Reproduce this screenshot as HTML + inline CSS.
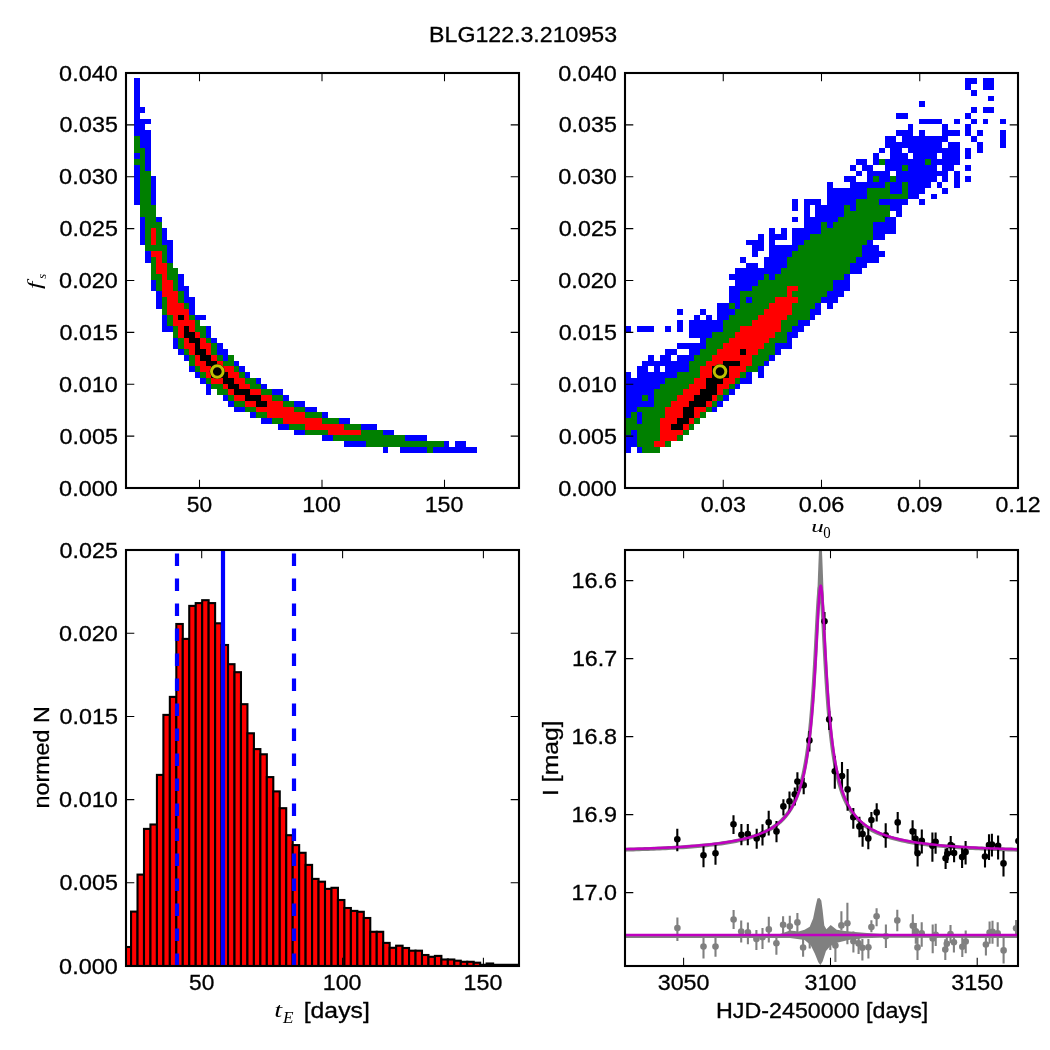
<!DOCTYPE html><html><head><meta charset="utf-8"><title>BLG122.3.210953</title><style>html,body{margin:0;padding:0;background:#fff;}svg{display:block;will-change:transform;}text{font-family:"Liberation Sans",sans-serif;fill:#000;stroke:#000;stroke-width:0.3px;}.m{font-family:"Liberation Serif",serif;font-style:italic;stroke-width:0;}.mr{font-family:"Liberation Serif",serif;stroke-width:0;}</style></head><body>
<svg width="1050" height="1050" viewBox="0 0 1050 1050">
<rect width="1050" height="1050" fill="#fff"/>
<defs><clipPath id="cbl"><rect x="126" y="550" width="393" height="416"/></clipPath><clipPath id="cbr"><rect x="625" y="550" width="393" height="416"/></clipPath><clipPath id="ctl"><rect x="126" y="73" width="393" height="415"/></clipPath><clipPath id="ctr"><rect x="625" y="73" width="393" height="415"/></clipPath></defs>
<g clip-path="url(#ctl)" shape-rendering="crispEdges">
<path fill="#0000ff" d="M134.00,78.43h5.53v5.758h-5.53zM134.00,84.19h5.53v5.758h-5.53zM134.00,89.95h5.53v5.758h-5.53zM134.00,95.70h5.53v5.758h-5.53zM134.00,101.46h5.53v5.758h-5.53zM134.00,107.22h11.06v5.758h-11.06zM134.00,112.98h5.53v5.758h-5.53zM134.00,118.74h16.60v5.758h-16.60zM134.00,124.49h11.06v5.758h-11.06zM134.00,130.25h16.60v5.758h-16.60zM139.53,136.01h11.06v5.758h-11.06zM139.53,141.77h11.06v5.758h-11.06zM145.06,147.53h5.53v5.758h-5.53zM134.00,153.28h5.53v5.758h-5.53zM145.06,153.28h5.53v5.758h-5.53zM145.06,159.04h5.53v5.758h-5.53zM134.00,164.80h5.53v5.758h-5.53zM145.06,164.80h5.53v5.758h-5.53zM134.00,170.56h5.53v5.758h-5.53zM134.00,176.32h5.53v5.758h-5.53zM150.60,176.32h5.53v5.758h-5.53zM134.00,182.07h5.53v5.758h-5.53zM150.60,182.07h5.53v5.758h-5.53zM134.00,187.83h5.53v5.758h-5.53zM150.60,187.83h5.53v5.758h-5.53zM134.00,193.59h5.53v5.758h-5.53zM150.60,193.59h5.53v5.758h-5.53zM134.00,199.35h5.53v5.758h-5.53zM150.60,199.35h5.53v5.758h-5.53zM139.53,216.62h5.53v5.758h-5.53zM156.13,216.62h5.53v5.758h-5.53zM139.53,222.38h5.53v5.758h-5.53zM139.53,228.14h5.53v5.758h-5.53zM161.66,228.14h5.53v5.758h-5.53zM139.53,233.90h5.53v5.758h-5.53zM161.66,233.90h5.53v5.758h-5.53zM139.53,239.65h5.53v5.758h-5.53zM161.66,239.65h11.06v5.758h-11.06zM167.19,245.41h5.53v5.758h-5.53zM145.06,251.17h5.53v5.758h-5.53zM167.19,251.17h5.53v5.758h-5.53zM145.06,256.93h5.53v5.758h-5.53zM167.19,256.93h5.53v5.758h-5.53zM178.26,274.20h5.53v5.758h-5.53zM150.60,279.96h5.53v5.758h-5.53zM178.26,279.96h5.53v5.758h-5.53zM150.60,285.72h5.53v5.758h-5.53zM178.26,285.72h11.06v5.758h-11.06zM156.13,291.48h5.53v5.758h-5.53zM183.79,291.48h5.53v5.758h-5.53zM156.13,297.23h5.53v5.758h-5.53zM183.79,297.23h11.06v5.758h-11.06zM156.13,302.99h5.53v5.758h-5.53zM189.32,302.99h5.53v5.758h-5.53zM189.32,308.75h5.53v5.758h-5.53zM161.66,314.51h5.53v5.758h-5.53zM194.85,314.51h11.06v5.758h-11.06zM161.66,320.27h5.53v5.758h-5.53zM161.66,326.02h11.06v5.758h-11.06zM205.92,326.02h5.53v5.758h-5.53zM205.92,331.78h5.53v5.758h-5.53zM172.72,337.54h5.53v5.758h-5.53zM211.45,337.54h5.53v5.758h-5.53zM172.72,343.30h5.53v5.758h-5.53zM216.98,343.30h5.53v5.758h-5.53zM178.26,349.06h5.53v5.758h-5.53zM216.98,349.06h11.06v5.758h-11.06zM183.79,354.81h5.53v5.758h-5.53zM222.51,354.81h5.53v5.758h-5.53zM233.58,360.57h5.53v5.758h-5.53zM189.32,366.33h5.53v5.758h-5.53zM239.11,366.33h5.53v5.758h-5.53zM194.85,372.09h5.53v5.758h-5.53zM244.64,372.09h5.53v5.758h-5.53zM200.38,377.85h5.53v5.758h-5.53zM255.70,377.85h5.53v5.758h-5.53zM205.92,383.60h5.53v5.758h-5.53zM261.24,383.60h5.53v5.758h-5.53zM205.92,389.36h5.53v5.758h-5.53zM272.30,389.36h11.06v5.758h-11.06zM222.51,395.12h5.53v5.758h-5.53zM283.36,395.12h5.53v5.758h-5.53zM228.04,400.88h5.53v5.758h-5.53zM294.43,400.88h11.06v5.758h-11.06zM233.58,406.64h11.06v5.758h-11.06zM305.49,406.64h11.06v5.758h-11.06zM250.17,412.39h5.53v5.758h-5.53zM322.09,412.39h5.53v5.758h-5.53zM261.24,418.15h11.06v5.758h-11.06zM338.68,418.15h11.06v5.758h-11.06zM277.83,423.91h11.06v5.758h-11.06zM360.81,423.91h16.60v5.758h-16.60zM294.43,429.67h11.06v5.758h-11.06zM382.94,429.67h11.06v5.758h-11.06zM322.09,435.43h11.06v5.758h-11.06zM405.07,435.43h22.13v5.758h-22.13zM344.22,441.18h22.13v5.758h-22.13zM443.79,441.18h5.53v5.758h-5.53zM454.86,441.18h11.06v5.758h-11.06zM382.94,446.94h5.53v5.758h-5.53zM399.54,446.94h27.66v5.758h-27.66zM432.73,446.94h44.26v5.758h-44.26z"/>
<path fill="#008000" d="M134.00,136.01h5.53v5.758h-5.53zM134.00,141.77h5.53v5.758h-5.53zM134.00,147.53h11.06v5.758h-11.06zM139.53,153.28h5.53v5.758h-5.53zM134.00,159.04h11.06v5.758h-11.06zM139.53,164.80h5.53v5.758h-5.53zM139.53,170.56h11.06v5.758h-11.06zM139.53,176.32h11.06v5.758h-11.06zM139.53,182.07h11.06v5.758h-11.06zM139.53,187.83h11.06v5.758h-11.06zM139.53,193.59h11.06v5.758h-11.06zM139.53,199.35h11.06v5.758h-11.06zM139.53,205.11h16.60v5.758h-16.60zM139.53,210.86h16.60v5.758h-16.60zM145.06,216.62h11.06v5.758h-11.06zM145.06,222.38h16.60v5.758h-16.60zM145.06,228.14h5.53v5.758h-5.53zM156.13,228.14h5.53v5.758h-5.53zM145.06,233.90h5.53v5.758h-5.53zM156.13,233.90h5.53v5.758h-5.53zM145.06,239.65h5.53v5.758h-5.53zM156.13,239.65h5.53v5.758h-5.53zM145.06,245.41h22.13v5.758h-22.13zM161.66,251.17h5.53v5.758h-5.53zM150.60,256.93h5.53v5.758h-5.53zM161.66,256.93h5.53v5.758h-5.53zM150.60,262.69h5.53v5.758h-5.53zM167.19,262.69h5.53v5.758h-5.53zM150.60,268.44h5.53v5.758h-5.53zM167.19,268.44h11.06v5.758h-11.06zM150.60,274.20h11.06v5.758h-11.06zM167.19,274.20h11.06v5.758h-11.06zM156.13,279.96h5.53v5.758h-5.53zM172.72,279.96h5.53v5.758h-5.53zM156.13,285.72h5.53v5.758h-5.53zM172.72,285.72h5.53v5.758h-5.53zM178.26,291.48h5.53v5.758h-5.53zM161.66,297.23h5.53v5.758h-5.53zM178.26,297.23h5.53v5.758h-5.53zM161.66,302.99h5.53v5.758h-5.53zM183.79,302.99h5.53v5.758h-5.53zM161.66,308.75h5.53v5.758h-5.53zM167.19,314.51h5.53v5.758h-5.53zM189.32,314.51h5.53v5.758h-5.53zM167.19,320.27h5.53v5.758h-5.53zM194.85,320.27h5.53v5.758h-5.53zM172.72,326.02h5.53v5.758h-5.53zM194.85,326.02h11.06v5.758h-11.06zM172.72,331.78h5.53v5.758h-5.53zM200.38,331.78h5.53v5.758h-5.53zM178.26,337.54h5.53v5.758h-5.53zM205.92,337.54h5.53v5.758h-5.53zM178.26,343.30h5.53v5.758h-5.53zM211.45,343.30h5.53v5.758h-5.53zM183.79,349.06h5.53v5.758h-5.53zM211.45,349.06h5.53v5.758h-5.53zM189.32,354.81h5.53v5.758h-5.53zM216.98,354.81h5.53v5.758h-5.53zM228.04,354.81h5.53v5.758h-5.53zM189.32,360.57h5.53v5.758h-5.53zM222.51,360.57h11.06v5.758h-11.06zM194.85,366.33h5.53v5.758h-5.53zM233.58,366.33h5.53v5.758h-5.53zM200.38,372.09h5.53v5.758h-5.53zM239.11,372.09h5.53v5.758h-5.53zM205.92,377.85h5.53v5.758h-5.53zM244.64,377.85h11.06v5.758h-11.06zM211.45,383.60h11.06v5.758h-11.06zM250.17,383.60h11.06v5.758h-11.06zM216.98,389.36h11.06v5.758h-11.06zM261.24,389.36h11.06v5.758h-11.06zM228.04,395.12h5.53v5.758h-5.53zM272.30,395.12h11.06v5.758h-11.06zM233.58,400.88h11.06v5.758h-11.06zM283.36,400.88h11.06v5.758h-11.06zM244.64,406.64h11.06v5.758h-11.06zM294.43,406.64h11.06v5.758h-11.06zM255.70,412.39h11.06v5.758h-11.06zM305.49,412.39h16.60v5.758h-16.60zM272.30,418.15h11.06v5.758h-11.06zM322.09,418.15h16.60v5.758h-16.60zM288.90,423.91h16.60v5.758h-16.60zM344.22,423.91h16.60v5.758h-16.60zM305.49,429.67h22.13v5.758h-22.13zM360.81,429.67h22.13v5.758h-22.13zM333.15,435.43h71.92v5.758h-71.92zM366.34,441.18h77.45v5.758h-77.45zM427.20,446.94h5.53v5.758h-5.53z"/>
<path fill="#ff0000" d="M150.60,228.14h5.53v5.758h-5.53zM150.60,233.90h5.53v5.758h-5.53zM150.60,239.65h5.53v5.758h-5.53zM150.60,251.17h11.06v5.758h-11.06zM156.13,256.93h5.53v5.758h-5.53zM156.13,262.69h11.06v5.758h-11.06zM156.13,268.44h11.06v5.758h-11.06zM161.66,274.20h5.53v5.758h-5.53zM161.66,279.96h11.06v5.758h-11.06zM161.66,285.72h11.06v5.758h-11.06zM161.66,291.48h16.60v5.758h-16.60zM167.19,297.23h11.06v5.758h-11.06zM167.19,302.99h16.60v5.758h-16.60zM167.19,308.75h22.13v5.758h-22.13zM172.72,314.51h5.53v5.758h-5.53zM183.79,314.51h5.53v5.758h-5.53zM172.72,320.27h22.13v5.758h-22.13zM178.26,326.02h5.53v5.758h-5.53zM189.32,326.02h5.53v5.758h-5.53zM178.26,331.78h5.53v5.758h-5.53zM194.85,331.78h5.53v5.758h-5.53zM183.79,337.54h5.53v5.758h-5.53zM200.38,337.54h5.53v5.758h-5.53zM183.79,343.30h11.06v5.758h-11.06zM200.38,343.30h11.06v5.758h-11.06zM189.32,349.06h5.53v5.758h-5.53zM205.92,349.06h5.53v5.758h-5.53zM194.85,354.81h5.53v5.758h-5.53zM211.45,354.81h5.53v5.758h-5.53zM194.85,360.57h11.06v5.758h-11.06zM216.98,360.57h5.53v5.758h-5.53zM200.38,366.33h11.06v5.758h-11.06zM222.51,366.33h11.06v5.758h-11.06zM205.92,372.09h5.53v5.758h-5.53zM228.04,372.09h11.06v5.758h-11.06zM211.45,377.85h11.06v5.758h-11.06zM233.58,377.85h11.06v5.758h-11.06zM222.51,383.60h5.53v5.758h-5.53zM239.11,383.60h11.06v5.758h-11.06zM228.04,389.36h5.53v5.758h-5.53zM250.17,389.36h11.06v5.758h-11.06zM233.58,395.12h11.06v5.758h-11.06zM261.24,395.12h11.06v5.758h-11.06zM244.64,400.88h11.06v5.758h-11.06zM266.77,400.88h16.60v5.758h-16.60zM255.70,406.64h38.72v5.758h-38.72zM266.77,412.39h38.72v5.758h-38.72zM283.36,418.15h38.72v5.758h-38.72zM305.49,423.91h38.72v5.758h-38.72zM327.62,429.67h33.19v5.758h-33.19z"/>
<path fill="#000000" d="M178.26,314.51h5.53v5.758h-5.53zM183.79,326.02h5.53v5.758h-5.53zM183.79,331.78h11.06v5.758h-11.06zM189.32,337.54h11.06v5.758h-11.06zM194.85,343.30h5.53v5.758h-5.53zM194.85,349.06h11.06v5.758h-11.06zM200.38,354.81h11.06v5.758h-11.06zM205.92,360.57h11.06v5.758h-11.06zM211.45,366.33h11.06v5.758h-11.06zM211.45,372.09h16.60v5.758h-16.60zM222.51,377.85h11.06v5.758h-11.06zM228.04,383.60h11.06v5.758h-11.06zM233.58,389.36h16.60v5.758h-16.60zM244.64,395.12h16.60v5.758h-16.60zM255.70,400.88h11.06v5.758h-11.06z"/>
</g>
<circle cx="217.3" cy="371.5" r="7.6" fill="#000"/><circle cx="217.3" cy="371.5" r="5.8" fill="#000" stroke="#bfbf00" stroke-width="2.9"/>
<g clip-path="url(#ctr)" shape-rendering="crispEdges">
<path fill="#0000ff" d="M965.35,78.43h11.53v5.758h-11.53zM982.65,78.43h11.53v5.758h-11.53zM965.35,84.19h5.77v5.758h-5.77zM982.65,84.19h11.53v5.758h-11.53zM971.12,89.95h5.77v5.758h-5.77zM988.42,95.70h5.77v5.758h-5.77zM919.22,101.46h5.77v5.758h-5.77zM971.12,107.22h5.77v5.758h-5.77zM982.65,107.22h11.53v5.758h-11.53zM896.15,112.98h11.53v5.758h-11.53zM965.35,112.98h5.77v5.758h-5.77zM919.22,118.74h23.07v5.758h-23.07zM953.82,118.74h5.77v5.758h-5.77zM971.12,118.74h5.77v5.758h-5.77zM982.65,118.74h5.77v5.758h-5.77zM999.96,118.74h5.77v5.758h-5.77zM907.68,124.49h5.77v5.758h-5.77zM942.29,124.49h5.77v5.758h-5.77zM965.35,124.49h5.77v5.758h-5.77zM896.15,130.25h17.30v5.758h-17.30zM919.22,130.25h5.77v5.758h-5.77zM942.29,130.25h17.30v5.758h-17.30zM965.35,130.25h5.77v5.758h-5.77zM976.89,130.25h5.77v5.758h-5.77zM999.96,130.25h5.77v5.758h-5.77zM884.62,136.01h11.53v5.758h-11.53zM901.92,136.01h46.14v5.758h-46.14zM971.12,136.01h5.77v5.758h-5.77zM999.96,136.01h5.77v5.758h-5.77zM884.62,141.77h57.67v5.758h-57.67zM948.05,141.77h11.53v5.758h-11.53zM976.89,141.77h5.77v5.758h-5.77zM999.96,141.77h5.77v5.758h-5.77zM878.85,147.53h5.77v5.758h-5.77zM890.38,147.53h11.53v5.758h-11.53zM907.68,147.53h51.90v5.758h-51.90zM965.35,147.53h5.77v5.758h-5.77zM976.89,147.53h5.77v5.758h-5.77zM873.08,153.28h5.77v5.758h-5.77zM890.38,153.28h17.30v5.758h-17.30zM913.45,153.28h23.07v5.758h-23.07zM942.29,153.28h17.30v5.758h-17.30zM965.35,153.28h5.77v5.758h-5.77zM855.78,159.04h11.53v5.758h-11.53zM873.08,159.04h5.77v5.758h-5.77zM884.62,159.04h40.37v5.758h-40.37zM930.75,159.04h28.84v5.758h-28.84zM850.01,164.80h5.77v5.758h-5.77zM861.55,164.80h11.53v5.758h-11.53zM884.62,164.80h17.30v5.758h-17.30zM907.68,164.80h28.84v5.758h-28.84zM942.29,164.80h11.53v5.758h-11.53zM965.35,164.80h5.77v5.758h-5.77zM855.78,170.56h5.77v5.758h-5.77zM867.31,170.56h23.07v5.758h-23.07zM896.15,170.56h51.90v5.758h-51.90zM953.82,170.56h5.77v5.758h-5.77zM844.25,176.32h11.53v5.758h-11.53zM867.31,176.32h5.77v5.758h-5.77zM878.85,176.32h11.53v5.758h-11.53zM896.15,176.32h40.37v5.758h-40.37zM942.29,176.32h5.77v5.758h-5.77zM953.82,176.32h5.77v5.758h-5.77zM965.35,176.32h5.77v5.758h-5.77zM826.95,182.07h5.77v5.758h-5.77zM850.01,182.07h34.60v5.758h-34.60zM890.38,182.07h11.53v5.758h-11.53zM907.68,182.07h23.07v5.758h-23.07zM936.52,182.07h5.77v5.758h-5.77zM953.82,182.07h5.77v5.758h-5.77zM826.95,187.83h40.37v5.758h-40.37zM890.38,187.83h11.53v5.758h-11.53zM907.68,187.83h17.30v5.758h-17.30zM942.29,187.83h5.77v5.758h-5.77zM826.95,193.59h40.37v5.758h-40.37zM907.68,193.59h11.53v5.758h-11.53zM930.75,193.59h5.77v5.758h-5.77zM792.34,199.35h5.77v5.758h-5.77zM803.88,199.35h17.30v5.758h-17.30zM826.95,199.35h28.84v5.758h-28.84zM878.85,199.35h28.84v5.758h-28.84zM919.22,199.35h5.77v5.758h-5.77zM792.34,205.11h5.77v5.758h-5.77zM803.88,205.11h5.77v5.758h-5.77zM815.41,205.11h28.84v5.758h-28.84zM850.01,205.11h5.77v5.758h-5.77zM890.38,205.11h11.53v5.758h-11.53zM803.88,210.86h5.77v5.758h-5.77zM815.41,210.86h28.84v5.758h-28.84zM896.15,210.86h5.77v5.758h-5.77zM792.34,216.62h5.77v5.758h-5.77zM803.88,216.62h34.60v5.758h-34.60zM884.62,216.62h11.53v5.758h-11.53zM803.88,222.38h17.30v5.758h-17.30zM826.95,222.38h5.77v5.758h-5.77zM873.08,222.38h23.07v5.758h-23.07zM769.28,228.14h5.77v5.758h-5.77zM780.81,228.14h5.77v5.758h-5.77zM792.34,228.14h28.84v5.758h-28.84zM873.08,228.14h23.07v5.758h-23.07zM757.74,233.90h5.77v5.758h-5.77zM769.28,233.90h17.30v5.758h-17.30zM792.34,233.90h17.30v5.758h-17.30zM873.08,233.90h11.53v5.758h-11.53zM746.21,239.65h17.30v5.758h-17.30zM769.28,239.65h5.77v5.758h-5.77zM792.34,239.65h11.53v5.758h-11.53zM867.31,239.65h5.77v5.758h-5.77zM751.97,245.41h11.53v5.758h-11.53zM769.28,245.41h28.84v5.758h-28.84zM861.55,245.41h17.30v5.758h-17.30zM751.97,251.17h5.77v5.758h-5.77zM769.28,251.17h23.07v5.758h-23.07zM861.55,251.17h23.07v5.758h-23.07zM740.44,256.93h5.77v5.758h-5.77zM763.51,256.93h23.07v5.758h-23.07zM855.78,256.93h23.07v5.758h-23.07zM746.21,262.69h11.53v5.758h-11.53zM763.51,262.69h23.07v5.758h-23.07zM850.01,262.69h17.30v5.758h-17.30zM734.67,268.44h46.14v5.758h-46.14zM850.01,268.44h11.53v5.758h-11.53zM728.91,274.20h34.60v5.758h-34.60zM769.28,274.20h5.77v5.758h-5.77zM844.25,274.20h5.77v5.758h-5.77zM734.67,279.96h23.07v5.758h-23.07zM832.71,279.96h17.30v5.758h-17.30zM728.91,285.72h23.07v5.758h-23.07zM832.71,285.72h17.30v5.758h-17.30zM728.91,291.48h11.53v5.758h-11.53zM826.95,291.48h17.30v5.758h-17.30zM728.91,297.23h11.53v5.758h-11.53zM746.21,297.23h5.77v5.758h-5.77zM821.18,297.23h17.30v5.758h-17.30zM717.37,302.99h11.53v5.758h-11.53zM734.67,302.99h5.77v5.758h-5.77zM815.41,302.99h5.77v5.758h-5.77zM826.95,302.99h5.77v5.758h-5.77zM677.00,308.75h5.77v5.758h-5.77zM700.07,308.75h5.77v5.758h-5.77zM717.37,308.75h17.30v5.758h-17.30zM809.64,308.75h11.53v5.758h-11.53zM694.30,314.51h5.77v5.758h-5.77zM705.84,314.51h5.77v5.758h-5.77zM717.37,314.51h11.53v5.758h-11.53zM809.64,314.51h5.77v5.758h-5.77zM677.00,320.27h5.77v5.758h-5.77zM688.54,320.27h34.60v5.758h-34.60zM798.11,320.27h11.53v5.758h-11.53zM625.10,326.02h5.77v5.758h-5.77zM636.63,326.02h17.30v5.758h-17.30zM665.47,326.02h5.77v5.758h-5.77zM677.00,326.02h5.77v5.758h-5.77zM688.54,326.02h34.60v5.758h-34.60zM792.34,326.02h11.53v5.758h-11.53zM688.54,331.78h23.07v5.758h-23.07zM786.58,331.78h11.53v5.758h-11.53zM700.07,337.54h5.77v5.758h-5.77zM786.58,337.54h5.77v5.758h-5.77zM677.00,343.30h28.84v5.758h-28.84zM775.04,343.30h17.30v5.758h-17.30zM665.47,349.06h11.53v5.758h-11.53zM688.54,349.06h11.53v5.758h-11.53zM775.04,349.06h5.77v5.758h-5.77zM648.17,354.81h5.77v5.758h-5.77zM659.70,354.81h11.53v5.758h-11.53zM677.00,354.81h17.30v5.758h-17.30zM769.28,354.81h5.77v5.758h-5.77zM642.40,360.57h46.14v5.758h-46.14zM763.51,360.57h5.77v5.758h-5.77zM636.63,366.33h11.53v5.758h-11.53zM653.94,366.33h5.77v5.758h-5.77zM665.47,366.33h23.07v5.758h-23.07zM757.74,366.33h5.77v5.758h-5.77zM625.10,372.09h5.77v5.758h-5.77zM636.63,372.09h40.37v5.758h-40.37zM746.21,372.09h5.77v5.758h-5.77zM757.74,372.09h5.77v5.758h-5.77zM625.10,377.85h40.37v5.758h-40.37zM740.44,377.85h11.53v5.758h-11.53zM625.10,383.60h34.60v5.758h-34.60zM734.67,383.60h5.77v5.758h-5.77zM625.10,389.36h28.84v5.758h-28.84zM728.91,389.36h5.77v5.758h-5.77zM625.10,395.12h17.30v5.758h-17.30zM648.17,395.12h5.77v5.758h-5.77zM723.14,395.12h5.77v5.758h-5.77zM625.10,400.88h28.84v5.758h-28.84zM717.37,400.88h5.77v5.758h-5.77zM625.10,406.64h11.53v5.758h-11.53zM711.61,406.64h5.77v5.758h-5.77zM625.10,412.39h5.77v5.758h-5.77zM636.63,412.39h5.77v5.758h-5.77zM636.63,418.15h5.77v5.758h-5.77zM630.87,429.67h5.77v5.758h-5.77zM625.10,435.43h11.53v5.758h-11.53zM625.10,441.18h11.53v5.758h-11.53zM625.10,446.94h5.77v5.758h-5.77zM636.63,446.94h5.77v5.758h-5.77z"/>
<path fill="#008000" d="M878.85,159.04h5.77v5.758h-5.77zM924.98,159.04h5.77v5.758h-5.77zM901.92,164.80h5.77v5.758h-5.77zM873.08,176.32h5.77v5.758h-5.77zM890.38,176.32h5.77v5.758h-5.77zM884.62,182.07h5.77v5.758h-5.77zM901.92,182.07h5.77v5.758h-5.77zM867.31,187.83h23.07v5.758h-23.07zM901.92,187.83h5.77v5.758h-5.77zM867.31,193.59h40.37v5.758h-40.37zM855.78,199.35h23.07v5.758h-23.07zM844.25,205.11h5.77v5.758h-5.77zM855.78,205.11h34.60v5.758h-34.60zM844.25,210.86h46.14v5.758h-46.14zM838.48,216.62h46.14v5.758h-46.14zM821.18,222.38h5.77v5.758h-5.77zM832.71,222.38h40.37v5.758h-40.37zM821.18,228.14h51.90v5.758h-51.90zM809.64,233.90h63.44v5.758h-63.44zM803.88,239.65h63.44v5.758h-63.44zM798.11,245.41h63.44v5.758h-63.44zM792.34,251.17h69.20v5.758h-69.20zM786.58,256.93h69.20v5.758h-69.20zM786.58,262.69h63.44v5.758h-63.44zM780.81,268.44h69.20v5.758h-69.20zM763.51,274.20h5.77v5.758h-5.77zM775.04,274.20h69.20v5.758h-69.20zM757.74,279.96h74.97v5.758h-74.97zM751.97,285.72h34.60v5.758h-34.60zM798.11,285.72h34.60v5.758h-34.60zM740.44,291.48h46.14v5.758h-46.14zM792.34,291.48h34.60v5.758h-34.60zM740.44,297.23h5.77v5.758h-5.77zM751.97,297.23h23.07v5.758h-23.07zM798.11,297.23h23.07v5.758h-23.07zM728.91,302.99h5.77v5.758h-5.77zM740.44,302.99h28.84v5.758h-28.84zM792.34,302.99h23.07v5.758h-23.07zM734.67,308.75h28.84v5.758h-28.84zM792.34,308.75h17.30v5.758h-17.30zM728.91,314.51h28.84v5.758h-28.84zM786.58,314.51h23.07v5.758h-23.07zM723.14,320.27h28.84v5.758h-28.84zM780.81,320.27h17.30v5.758h-17.30zM723.14,326.02h17.30v5.758h-17.30zM780.81,326.02h11.53v5.758h-11.53zM711.61,331.78h23.07v5.758h-23.07zM775.04,331.78h11.53v5.758h-11.53zM705.84,337.54h23.07v5.758h-23.07zM769.28,337.54h17.30v5.758h-17.30zM705.84,343.30h17.30v5.758h-17.30zM763.51,343.30h11.53v5.758h-11.53zM700.07,349.06h17.30v5.758h-17.30zM757.74,349.06h17.30v5.758h-17.30zM694.30,354.81h17.30v5.758h-17.30zM751.97,354.81h17.30v5.758h-17.30zM688.54,360.57h17.30v5.758h-17.30zM751.97,360.57h11.53v5.758h-11.53zM688.54,366.33h11.53v5.758h-11.53zM746.21,366.33h11.53v5.758h-11.53zM677.00,372.09h23.07v5.758h-23.07zM740.44,372.09h5.77v5.758h-5.77zM665.47,377.85h28.84v5.758h-28.84zM734.67,377.85h5.77v5.758h-5.77zM659.70,383.60h28.84v5.758h-28.84zM728.91,383.60h5.77v5.758h-5.77zM653.94,389.36h28.84v5.758h-28.84zM723.14,389.36h5.77v5.758h-5.77zM642.40,395.12h5.77v5.758h-5.77zM653.94,395.12h23.07v5.758h-23.07zM717.37,395.12h5.77v5.758h-5.77zM653.94,400.88h17.30v5.758h-17.30zM711.61,400.88h5.77v5.758h-5.77zM636.63,406.64h28.84v5.758h-28.84zM705.84,406.64h5.77v5.758h-5.77zM630.87,412.39h5.77v5.758h-5.77zM642.40,412.39h23.07v5.758h-23.07zM700.07,412.39h5.77v5.758h-5.77zM625.10,418.15h11.53v5.758h-11.53zM642.40,418.15h17.30v5.758h-17.30zM694.30,418.15h5.77v5.758h-5.77zM625.10,423.91h34.60v5.758h-34.60zM688.54,423.91h5.77v5.758h-5.77zM625.10,429.67h5.77v5.758h-5.77zM636.63,429.67h23.07v5.758h-23.07zM682.77,429.67h5.77v5.758h-5.77zM636.63,435.43h23.07v5.758h-23.07zM677.00,435.43h5.77v5.758h-5.77zM636.63,441.18h17.30v5.758h-17.30zM665.47,441.18h5.77v5.758h-5.77zM642.40,446.94h17.30v5.758h-17.30z"/>
<path fill="#ff0000" d="M786.58,285.72h11.53v5.758h-11.53zM786.58,291.48h5.77v5.758h-5.77zM775.04,297.23h23.07v5.758h-23.07zM769.28,302.99h23.07v5.758h-23.07zM763.51,308.75h28.84v5.758h-28.84zM757.74,314.51h28.84v5.758h-28.84zM751.97,320.27h28.84v5.758h-28.84zM740.44,326.02h40.37v5.758h-40.37zM734.67,331.78h40.37v5.758h-40.37zM728.91,337.54h40.37v5.758h-40.37zM723.14,343.30h40.37v5.758h-40.37zM717.37,349.06h23.07v5.758h-23.07zM746.21,349.06h11.53v5.758h-11.53zM711.61,354.81h40.37v5.758h-40.37zM705.84,360.57h17.30v5.758h-17.30zM740.44,360.57h11.53v5.758h-11.53zM700.07,366.33h11.53v5.758h-11.53zM728.91,366.33h17.30v5.758h-17.30zM700.07,372.09h11.53v5.758h-11.53zM728.91,372.09h11.53v5.758h-11.53zM694.30,377.85h11.53v5.758h-11.53zM723.14,377.85h11.53v5.758h-11.53zM688.54,383.60h17.30v5.758h-17.30zM717.37,383.60h11.53v5.758h-11.53zM682.77,389.36h17.30v5.758h-17.30zM717.37,389.36h5.77v5.758h-5.77zM677.00,395.12h17.30v5.758h-17.30zM711.61,395.12h5.77v5.758h-5.77zM671.24,400.88h17.30v5.758h-17.30zM705.84,400.88h5.77v5.758h-5.77zM665.47,406.64h17.30v5.758h-17.30zM694.30,406.64h11.53v5.758h-11.53zM665.47,412.39h17.30v5.758h-17.30zM694.30,412.39h5.77v5.758h-5.77zM659.70,418.15h17.30v5.758h-17.30zM688.54,418.15h5.77v5.758h-5.77zM659.70,423.91h11.53v5.758h-11.53zM682.77,423.91h5.77v5.758h-5.77zM659.70,429.67h23.07v5.758h-23.07zM659.70,435.43h17.30v5.758h-17.30zM653.94,441.18h11.53v5.758h-11.53z"/>
<path fill="#000000" d="M740.44,349.06h5.77v5.758h-5.77zM723.14,360.57h17.30v5.758h-17.30zM711.61,366.33h17.30v5.758h-17.30zM711.61,372.09h17.30v5.758h-17.30zM705.84,377.85h17.30v5.758h-17.30zM705.84,383.60h11.53v5.758h-11.53zM700.07,389.36h17.30v5.758h-17.30zM694.30,395.12h17.30v5.758h-17.30zM688.54,400.88h17.30v5.758h-17.30zM682.77,406.64h11.53v5.758h-11.53zM682.77,412.39h11.53v5.758h-11.53zM677.00,418.15h11.53v5.758h-11.53zM671.24,423.91h11.53v5.758h-11.53z"/>
</g>
<circle cx="720.0" cy="371.5" r="7.6" fill="#000"/><circle cx="720.0" cy="371.5" r="5.8" fill="#000" stroke="#bfbf00" stroke-width="2.9"/>
<g clip-path="url(#cbr)">
<polygon fill="#808080" points="610.20,849.54 613.14,849.48 616.07,849.41 619.01,849.34 621.94,849.27 624.88,849.19 627.82,849.11 630.75,849.03 633.69,848.94 636.62,848.85 639.56,848.76 642.50,848.66 645.43,848.55 648.37,848.45 651.30,848.33 654.24,848.22 657.18,848.09 660.11,847.96 663.05,847.83 665.98,847.69 668.92,847.54 671.86,847.38 674.79,847.22 677.73,847.04 680.66,846.86 683.60,846.67 686.54,846.47 689.47,846.26 692.41,846.04 695.34,845.80 698.28,845.55 701.22,845.29 704.15,845.01 707.09,844.71 710.02,844.40 712.96,844.06 715.90,843.71 718.83,843.33 721.77,842.93 724.70,842.50 727.64,842.04 730.58,841.54 733.51,841.01 736.45,840.44 739.38,839.82 742.32,839.16 745.26,838.44 748.19,837.66 751.13,836.81 754.06,835.87 757.00,834.85 759.94,833.73 762.87,832.49 765.81,831.12 768.74,829.58 771.68,827.86 774.62,825.92 777.55,823.71 778.29,823.11 779.02,822.49 779.75,821.85 780.49,821.18 781.22,820.49 781.96,819.78 782.69,819.03 783.42,818.26 784.16,817.46 784.89,816.62 785.63,815.75 786.36,814.85 787.09,813.90 787.83,812.92 788.56,811.89 789.30,810.82 790.03,809.69 790.76,808.51 791.50,807.28 792.23,805.98 792.97,804.62 793.70,803.18 794.43,801.68 795.17,800.08 795.90,798.40 796.64,796.63 797.37,794.74 798.10,792.75 798.84,790.63 799.57,788.37 800.31,785.96 801.04,783.39 801.77,780.64 802.51,777.69 803.24,774.51 803.98,771.09 804.71,767.39 805.44,763.38 806.18,759.02 806.91,754.27 807.65,749.08 808.38,743.37 809.11,737.10 809.26,735.76 809.41,734.40 809.55,733.02 809.70,731.60 809.85,730.15 809.99,728.68 810.14,727.17 810.29,725.63 810.44,724.06 810.58,722.45 810.73,720.81 810.88,719.14 811.02,717.42 811.17,715.67 811.32,713.88 811.46,712.05 811.61,710.18 811.76,708.26 811.90,706.30 812.05,704.30 812.20,702.25 812.34,700.15 812.49,698.01 812.64,695.81 812.78,693.56 812.93,691.26 813.08,688.91 813.22,686.50 813.37,684.03 813.52,681.50 813.66,678.92 813.81,676.27 813.96,673.56 814.11,670.79 814.25,667.95 814.40,665.04 814.55,662.07 814.69,659.03 814.84,655.93 814.99,652.75 815.13,649.50 815.28,646.19 815.43,642.80 815.57,639.34 815.72,635.82 815.87,632.22 816.01,628.57 816.16,624.84 816.31,621.06 816.45,617.22 816.60,613.33 816.75,609.38 816.89,605.40 817.04,601.38 817.19,597.33 817.33,593.27 817.48,589.20 817.63,585.13 817.78,581.09 817.92,577.07 818.07,573.11 818.22,569.22 818.36,565.41 818.51,561.71 818.66,558.14 818.80,554.72 818.95,551.48 819.10,548.44 819.24,545.62 819.39,543.05 819.54,540.75 819.68,538.73 819.83,537.03 819.98,535.66 820.12,534.62 820.27,533.94 820.42,533.61 820.56,533.65 820.71,534.04 820.71,534.04 820.86,534.80 821.00,535.90 821.15,537.35 821.30,539.11 821.45,541.18 821.59,543.54 821.74,546.17 821.89,549.03 822.03,552.11 822.18,555.39 822.33,558.84 822.47,562.44 822.62,566.16 822.77,569.99 822.91,573.90 823.06,577.87 823.21,581.89 823.35,585.95 823.50,590.01 823.65,594.08 823.79,598.14 823.94,602.19 824.09,606.20 824.23,610.17 824.38,614.11 824.53,617.99 824.67,621.82 824.82,625.59 824.97,629.30 825.12,632.95 825.26,636.53 825.41,640.04 825.56,643.48 825.70,646.85 825.85,650.16 826.00,653.39 826.14,656.55 826.29,659.65 826.44,662.67 826.58,665.63 826.73,668.52 826.88,671.35 827.02,674.11 827.17,676.80 827.32,679.44 827.46,682.01 827.61,684.53 827.76,686.98 827.90,689.38 828.05,691.73 828.20,694.02 828.34,696.25 828.49,698.44 828.64,700.57 828.79,702.66 828.93,704.70 829.08,706.70 829.23,708.65 829.37,710.55 829.52,712.42 829.67,714.24 829.81,716.02 829.96,717.77 830.11,719.47 830.25,721.14 830.40,722.78 830.55,724.38 830.69,725.94 830.84,727.48 830.99,728.98 831.13,730.45 831.28,731.89 831.43,733.30 831.57,734.68 831.72,736.03 831.87,737.36 832.01,738.66 832.16,739.93 832.31,741.18 832.46,742.41 833.19,748.20 833.92,753.47 834.66,758.29 835.39,762.71 836.13,766.77 836.86,770.52 837.59,773.98 838.33,777.19 839.06,780.18 839.80,782.96 840.53,785.56 841.26,788.00 842.00,790.28 842.73,792.42 843.47,794.43 844.20,796.33 844.93,798.13 845.67,799.82 846.40,801.43 847.14,802.95 847.87,804.39 848.60,805.77 849.34,807.07 850.07,808.32 850.81,809.51 851.54,810.64 852.27,811.72 853.01,812.76 853.74,813.75 854.48,814.70 855.21,815.61 855.94,816.49 856.68,817.33 857.41,818.13 858.15,818.91 858.88,819.66 859.61,820.38 860.35,821.07 861.08,821.74 861.82,822.39 862.55,823.01 863.28,823.62 864.02,824.20 864.75,824.76 867.69,826.84 870.62,828.68 873.56,830.31 876.50,831.77 879.43,833.08 882.37,834.26 885.30,835.34 888.24,836.31 891.18,837.21 894.11,838.03 897.05,838.78 899.98,839.47 902.92,840.11 905.86,840.71 908.79,841.26 911.73,841.77 914.66,842.25 917.60,842.70 920.54,843.12 923.47,843.51 926.41,843.87 929.34,844.22 932.28,844.54 935.22,844.85 938.15,845.14 941.09,845.41 944.02,845.67 946.96,845.91 949.90,846.14 952.83,846.36 955.77,846.57 958.70,846.76 961.64,846.95 964.58,847.13 967.51,847.29 970.45,847.45 973.38,847.61 976.32,847.75 979.26,847.89 982.19,848.02 985.13,848.15 988.06,848.27 991.00,848.39 993.94,848.50 996.87,848.60 999.81,848.70 1002.74,848.80 1005.68,848.89 1008.62,848.98 1011.55,849.07 1014.49,849.15 1017.42,849.23 1020.36,849.30 1023.30,849.37 1026.23,849.44 1029.17,849.51 1032.10,849.57 1035.04,849.63 1035.04,849.63 1032.10,849.57 1029.17,849.50 1026.23,849.44 1023.30,849.37 1020.36,849.30 1017.42,849.22 1014.49,849.14 1011.55,849.06 1008.62,848.98 1005.68,848.89 1002.74,848.79 999.81,848.70 996.87,848.60 993.94,848.49 991.00,848.38 988.06,848.26 985.13,848.14 982.19,848.01 979.26,847.88 976.32,847.74 973.38,847.60 970.45,847.44 967.51,847.28 964.58,847.11 961.64,846.94 958.70,846.75 955.77,846.55 952.83,846.34 949.90,846.12 946.96,845.89 944.02,845.65 941.09,845.39 938.15,845.12 935.22,844.83 932.28,844.52 929.34,844.20 926.41,843.85 923.47,843.48 920.54,843.09 917.60,842.67 914.66,842.22 911.73,841.74 908.79,841.23 905.86,840.67 902.92,840.07 899.98,839.43 897.05,838.73 894.11,837.98 891.18,837.16 888.24,836.26 885.30,835.28 882.37,834.20 879.43,833.01 876.50,831.69 873.56,830.23 870.62,828.59 867.69,826.74 864.75,824.66 864.02,824.09 863.28,823.50 862.55,822.90 861.82,822.27 861.08,821.62 860.35,820.95 859.61,820.25 858.88,819.53 858.15,818.78 857.41,818.00 856.68,817.19 855.94,816.35 855.21,815.47 854.48,814.56 853.74,813.60 853.01,812.61 852.27,811.57 851.54,810.48 850.81,809.35 850.07,808.16 849.34,806.91 848.60,805.61 847.87,804.23 847.14,802.79 846.40,801.27 845.67,799.66 844.93,797.97 844.20,796.18 843.47,794.29 842.73,792.28 842.00,790.15 841.26,787.88 840.53,785.47 839.80,782.89 839.06,780.14 838.33,777.18 837.59,774.01 836.86,770.61 836.13,766.93 835.39,762.96 834.66,758.65 833.92,753.97 833.19,748.88 832.46,743.32 832.31,742.15 832.16,740.95 832.01,739.74 831.87,738.50 831.72,737.24 831.57,735.95 831.43,734.64 831.28,733.31 831.13,731.95 830.99,730.56 830.84,729.15 830.69,727.71 830.55,726.24 830.40,724.75 830.25,723.23 830.11,721.67 829.96,720.09 829.81,718.47 829.67,716.83 829.52,715.15 829.37,713.44 829.23,711.69 829.08,709.91 828.93,708.10 828.79,706.25 828.64,704.36 828.49,702.44 828.34,700.48 828.20,698.48 828.05,696.45 827.90,694.37 827.76,692.26 827.61,690.10 827.46,687.91 827.32,685.68 827.17,683.40 827.02,681.09 826.88,678.73 826.73,676.34 826.58,673.90 826.44,671.42 826.29,668.91 826.14,666.36 826.00,663.77 825.85,661.15 825.70,658.49 825.56,655.80 825.41,653.08 825.26,650.33 825.12,647.56 824.97,644.76 824.82,641.95 824.67,639.13 824.53,636.29 824.38,633.45 824.23,630.62 824.09,627.79 823.94,624.97 823.79,622.18 823.65,619.42 823.50,616.70 823.35,614.02 823.21,611.41 823.06,608.85 822.91,606.38 822.77,604.00 822.62,601.71 822.47,599.54 822.33,597.48 822.18,595.56 822.03,593.79 821.89,592.16 821.74,590.71 821.59,589.42 821.45,588.32 821.30,587.41 821.15,586.69 821.00,586.18 820.86,585.87 820.71,585.76 820.71,585.76 820.56,585.87 820.42,586.18 820.27,586.69 820.12,587.41 819.98,588.32 819.83,589.42 819.68,590.71 819.54,592.16 819.39,593.79 819.24,595.56 819.10,597.48 818.95,599.54 818.80,601.71 818.66,604.00 818.51,606.38 818.36,608.85 818.22,611.41 818.07,614.02 817.92,616.70 817.78,619.42 817.63,622.18 817.48,624.97 817.33,627.79 817.19,630.62 817.04,633.45 816.89,636.29 816.75,639.13 816.60,641.95 816.45,644.76 816.31,647.56 816.16,650.33 816.01,653.08 815.87,655.80 815.72,658.49 815.57,661.15 815.43,663.77 815.28,666.36 815.13,668.91 814.99,671.42 814.84,673.90 814.69,676.34 814.55,678.73 814.40,681.09 814.25,683.40 814.11,685.68 813.96,687.91 813.81,690.10 813.66,692.26 813.52,694.37 813.37,696.45 813.22,698.48 813.08,700.48 812.93,702.44 812.78,704.36 812.64,706.25 812.49,708.10 812.34,709.91 812.20,711.69 812.05,713.44 811.90,715.15 811.76,716.83 811.61,718.47 811.46,720.09 811.32,721.67 811.17,723.23 811.02,724.75 810.88,726.24 810.73,727.71 810.58,729.15 810.44,730.56 810.29,731.95 810.14,733.31 809.99,734.64 809.85,735.95 809.70,737.24 809.55,738.50 809.41,739.74 809.26,740.95 809.11,742.15 808.38,747.81 807.65,752.99 806.91,757.75 806.18,762.12 805.44,766.16 804.71,769.89 803.98,773.35 803.24,776.57 802.51,779.56 801.77,782.35 801.04,784.97 800.31,787.41 799.57,789.71 798.84,791.86 798.10,793.90 797.37,795.81 796.64,797.62 795.90,799.33 795.17,800.95 794.43,802.49 793.70,803.95 792.97,805.34 792.23,806.66 791.50,807.92 790.76,809.12 790.03,810.26 789.30,811.36 788.56,812.40 787.83,813.41 787.09,814.37 786.36,815.29 785.63,816.18 784.89,817.03 784.16,817.84 783.42,818.63 782.69,819.38 781.96,820.11 781.22,820.81 780.49,821.49 779.75,822.14 779.02,822.78 778.29,823.38 777.55,823.97 774.62,826.14 771.68,828.06 768.74,829.75 765.81,831.27 762.87,832.63 759.94,833.85 757.00,834.96 754.06,835.97 751.13,836.89 748.19,837.74 745.26,838.51 742.32,839.23 739.38,839.89 736.45,840.50 733.51,841.06 730.58,841.59 727.64,842.08 724.70,842.54 721.77,842.97 718.83,843.37 715.90,843.74 712.96,844.10 710.02,844.43 707.09,844.74 704.15,845.03 701.22,845.31 698.28,845.57 695.34,845.82 692.41,846.06 689.47,846.28 686.54,846.49 683.60,846.69 680.66,846.88 677.73,847.06 674.79,847.23 671.86,847.40 668.92,847.55 665.98,847.70 663.05,847.84 660.11,847.98 657.18,848.10 654.24,848.23 651.30,848.34 648.37,848.46 645.43,848.56 642.50,848.67 639.56,848.76 636.62,848.86 633.69,848.95 630.75,849.04 627.82,849.12 624.88,849.20 621.94,849.27 619.01,849.35 616.07,849.42 613.14,849.48 610.20,849.55"/>
<polyline fill="none" stroke="#808080" stroke-width="3.9" stroke-linejoin="round" points="609.70,850.05 612.64,849.98 615.57,849.92 618.51,849.85 621.44,849.77 624.38,849.70 627.32,849.62 630.25,849.54 633.19,849.45 636.12,849.36 639.06,849.26 642.00,849.17 644.93,849.06 647.87,848.96 650.80,848.84 653.74,848.73 656.68,848.60 659.61,848.48 662.55,848.34 665.48,848.20 668.42,848.05 671.36,847.90 674.29,847.73 677.23,847.56 680.16,847.38 683.10,847.19 686.04,846.99 688.97,846.78 691.91,846.56 694.84,846.32 697.78,846.07 700.72,845.81 703.65,845.53 706.59,845.24 709.52,844.93 712.46,844.60 715.40,844.24 718.33,843.87 721.27,843.47 724.20,843.04 727.14,842.58 730.08,842.09 733.01,841.56 735.95,841.00 738.88,840.39 741.82,839.73 744.76,839.01 747.69,838.24 750.63,837.39 753.56,836.47 756.50,835.46 759.44,834.35 762.37,833.13 765.31,831.77 768.24,830.25 771.18,828.56 774.12,826.64 777.05,824.47 777.79,823.88 778.52,823.28 779.25,822.64 779.99,821.99 780.72,821.31 781.46,820.61 782.19,819.88 782.92,819.13 783.66,818.34 784.39,817.53 785.13,816.68 785.86,815.79 786.59,814.87 787.33,813.91 788.06,812.90 788.80,811.86 789.53,810.76 790.26,809.62 791.00,808.42 791.73,807.16 792.47,805.84 793.20,804.45 793.93,802.99 794.67,801.45 795.40,799.83 796.14,798.12 796.87,796.31 797.60,794.40 798.34,792.36 799.07,790.21 799.81,787.91 800.54,785.47 801.27,782.85 802.01,780.06 802.74,777.07 803.48,773.85 804.21,770.39 804.94,766.66 805.68,762.62 806.41,758.25 807.15,753.49 807.88,748.31 808.61,742.65 808.76,741.45 808.91,740.24 809.05,739.00 809.20,737.74 809.35,736.45 809.49,735.14 809.64,733.81 809.79,732.45 809.94,731.06 810.08,729.65 810.23,728.21 810.38,726.74 810.52,725.25 810.67,723.73 810.82,722.17 810.96,720.59 811.11,718.97 811.26,717.33 811.40,715.65 811.55,713.94 811.70,712.19 811.84,710.41 811.99,708.60 812.14,706.75 812.28,704.86 812.43,702.94 812.58,700.98 812.72,698.98 812.87,696.95 813.02,694.87 813.16,692.76 813.31,690.60 813.46,688.41 813.61,686.18 813.75,683.90 813.90,681.59 814.05,679.23 814.19,676.84 814.34,674.40 814.49,671.92 814.63,669.41 814.78,666.86 814.93,664.27 815.07,661.65 815.22,658.99 815.37,656.30 815.51,653.58 815.66,650.83 815.81,648.06 815.95,645.26 816.10,642.45 816.25,639.63 816.39,636.79 816.54,633.95 816.69,631.12 816.83,628.29 816.98,625.47 817.13,622.68 817.28,619.92 817.42,617.20 817.57,614.52 817.72,611.91 817.86,609.35 818.01,606.88 818.16,604.50 818.30,602.21 818.45,600.04 818.60,597.98 818.74,596.06 818.89,594.29 819.04,592.66 819.18,591.21 819.33,589.92 819.48,588.82 819.62,587.91 819.77,587.19 819.92,586.68 820.06,586.37 820.21,586.26 820.21,586.26 820.36,586.37 820.50,586.68 820.65,587.19 820.80,587.91 820.95,588.82 821.09,589.92 821.24,591.21 821.39,592.66 821.53,594.29 821.68,596.06 821.83,597.98 821.97,600.04 822.12,602.21 822.27,604.50 822.41,606.88 822.56,609.35 822.71,611.91 822.85,614.52 823.00,617.20 823.15,619.92 823.29,622.68 823.44,625.47 823.59,628.29 823.73,631.12 823.88,633.95 824.03,636.79 824.17,639.63 824.32,642.45 824.47,645.26 824.62,648.06 824.76,650.83 824.91,653.58 825.06,656.30 825.20,658.99 825.35,661.65 825.50,664.27 825.64,666.86 825.79,669.41 825.94,671.92 826.08,674.40 826.23,676.84 826.38,679.23 826.52,681.59 826.67,683.90 826.82,686.18 826.96,688.41 827.11,690.60 827.26,692.76 827.40,694.87 827.55,696.95 827.70,698.98 827.84,700.98 827.99,702.94 828.14,704.86 828.29,706.75 828.43,708.60 828.58,710.41 828.73,712.19 828.87,713.94 829.02,715.65 829.17,717.33 829.31,718.97 829.46,720.59 829.61,722.17 829.75,723.73 829.90,725.25 830.05,726.74 830.19,728.21 830.34,729.65 830.49,731.06 830.63,732.45 830.78,733.81 830.93,735.14 831.07,736.45 831.22,737.74 831.37,739.00 831.51,740.24 831.66,741.45 831.81,742.65 831.96,743.82 832.69,749.38 833.42,754.47 834.16,759.15 834.89,763.46 835.63,767.43 836.36,771.11 837.09,774.51 837.83,777.68 838.56,780.64 839.30,783.39 840.03,785.97 840.76,788.38 841.50,790.65 842.23,792.78 842.97,794.79 843.70,796.68 844.43,798.47 845.17,800.16 845.90,801.77 846.64,803.29 847.37,804.73 848.10,806.11 848.84,807.41 849.57,808.66 850.31,809.85 851.04,810.98 851.77,812.07 852.51,813.11 853.24,814.10 853.98,815.06 854.71,815.97 855.44,816.85 856.18,817.69 856.91,818.50 857.65,819.28 858.38,820.03 859.11,820.75 859.85,821.45 860.58,822.12 861.32,822.77 862.05,823.40 862.78,824.00 863.52,824.59 864.25,825.16 867.19,827.24 870.12,829.09 873.06,830.73 876.00,832.19 878.93,833.51 881.87,834.70 884.80,835.78 887.74,836.76 890.68,837.66 893.61,838.48 896.55,839.23 899.48,839.93 902.42,840.57 905.36,841.17 908.29,841.73 911.23,842.24 914.16,842.72 917.10,843.17 920.04,843.59 922.97,843.98 925.91,844.35 928.84,844.70 931.78,845.02 934.72,845.33 937.65,845.62 940.59,845.89 943.52,846.15 946.46,846.39 949.40,846.62 952.33,846.84 955.27,847.05 958.20,847.25 961.14,847.44 964.08,847.61 967.01,847.78 969.95,847.94 972.88,848.10 975.82,848.24 978.76,848.38 981.69,848.51 984.63,848.64 987.56,848.76 990.50,848.88 993.44,848.99 996.37,849.10 999.31,849.20 1002.24,849.29 1005.18,849.39 1008.12,849.48 1011.05,849.56 1013.99,849.64 1016.92,849.72 1019.86,849.80 1022.80,849.87 1025.73,849.94 1028.67,850.00 1031.60,850.07 1034.54,850.13"/>
<polygon fill="#808080" points="620.00,934.20 780.00,934.00 790.00,930.60 798.60,931.40 804.60,929.70 809.70,926.70 813.10,918.60 815.70,905.70 817.40,898.40 819.50,898.00 821.30,900.60 822.60,910.00 824.30,925.40 826.40,929.30 830.70,925.00 836.70,929.70 844.90,931.00 855.10,931.90 867.10,933.10 880.00,933.80 900.00,934.20 1020.00,934.20 1020.00,937.90 880.00,937.80 862.90,938.30 848.30,940.00 838.00,942.60 830.30,946.00 826.00,951.10 822.60,961.40 820.40,964.90 818.30,962.30 814.90,953.70 810.60,945.10 804.60,940.00 790.00,938.00 620.00,937.90"/>
<path d="M677.4,917.6V941M703.5,937.6V958.6M715.5,937.6V956.7M733.6,910V929M741.2,920.5V942.4M747.9,922.4V944.3M756.4,930V950M762.5,928.1V949M768.8,916.7V942.4M776.4,934.8V954.8M783.1,916.3V933.8M789.8,915.7V937.6M797.4,912.9V937.6M803.1,937.6V956.7M835.4,940V961.9M841.4,911.3V930.6M847.4,902.7V944.3M853.4,931.4V952.4M858.6,933V954.1M862.4,939.1V960.6M868.4,939.1V958.4M871.4,920.3V932.3M876.6,908.3V926.3M885.9,924.5V948.1M897.3,909.8V931.2M912.8,914.2V934.9M915.8,923V943.7M917.5,934.9V960M921.7,922.3V946.7M932.7,924.5V953.3M935.7,923.8V945.9M945.3,939.3V960M946.8,936V952M950.5,925V943M953.9,934.9V952.6M962.3,934.9V957M965.7,930.4V953.3M985.9,934.1V955.5M989.6,921.6V943.7M992.5,920.8V943.7M997.7,922.3V946.7M1003.6,937.8V963.6M1016.1,920V938" stroke="#808080" stroke-width="2.1" fill="none"/>
<g fill="#808080"><circle cx="677.4" cy="928.1" r="3.3"/><circle cx="703.5" cy="946.6" r="3.3"/><circle cx="715.5" cy="946.6" r="3.3"/><circle cx="733.6" cy="919.5" r="3.3"/><circle cx="741.2" cy="931.5" r="3.3"/><circle cx="747.9" cy="932.3" r="3.3"/><circle cx="756.4" cy="939.1" r="3.3"/><circle cx="762.5" cy="937.2" r="3.3"/><circle cx="768.8" cy="929.4" r="3.3"/><circle cx="776.4" cy="943.3" r="3.3"/><circle cx="783.1" cy="924.7" r="3.3"/><circle cx="789.8" cy="926.2" r="3.3"/><circle cx="797.4" cy="922.4" r="3.3"/><circle cx="803.1" cy="947.5" r="3.3"/><circle cx="835.4" cy="945.6" r="3.3"/><circle cx="841.4" cy="925.4" r="3.3"/><circle cx="847.4" cy="923.3" r="3.3"/><circle cx="853.4" cy="941.3" r="3.3"/><circle cx="858.6" cy="943.4" r="3.3"/><circle cx="862.4" cy="947.7" r="3.3"/><circle cx="868.4" cy="947.3" r="3.3"/><circle cx="871.4" cy="927.1" r="3.3"/><circle cx="876.6" cy="916.2" r="3.3"/><circle cx="885.9" cy="936.3" r="3.3"/><circle cx="897.3" cy="920.4" r="3.3"/><circle cx="912.8" cy="925.7" r="3.3"/><circle cx="915.8" cy="931.2" r="3.3"/><circle cx="917.5" cy="947.4" r="3.3"/><circle cx="921.7" cy="933.4" r="3.3"/><circle cx="932.7" cy="938.5" r="3.3"/><circle cx="935.7" cy="934.9" r="3.3"/><circle cx="945.3" cy="949.6" r="3.3"/><circle cx="946.8" cy="943.7" r="3.3"/><circle cx="950.5" cy="934.1" r="3.3"/><circle cx="953.9" cy="942.2" r="3.3"/><circle cx="962.3" cy="946.7" r="3.3"/><circle cx="965.7" cy="941.5" r="3.3"/><circle cx="985.9" cy="944.5" r="3.3"/><circle cx="989.6" cy="932.6" r="3.3"/><circle cx="992.5" cy="931.9" r="3.3"/><circle cx="997.7" cy="933.4" r="3.3"/><circle cx="1003.6" cy="950.4" r="3.3"/><circle cx="1016.1" cy="928.2" r="3.3"/></g>
<path d="M809.7,940V948.5M830.3,940V950" stroke="#808080" stroke-width="2.1"/>
<path d="M677.3,828.7V851.3M703.5,846V867.3M715.5,844.7V864.7M733.5,815.3V834M741.4,824V845.3M747.8,824V845.3M756.7,828.7V848.7M762.5,824.3V845.4M768.7,810.7V835.4M776.5,821V842.2M783.4,799.2V815.5M789.5,791.4V811.7M794.8,787.4V805.4M797.4,772.3V790.9M803.7,778V794.3M809.4,730.9V751.4M824.5,612V629.9M829.2,711.1V730M834.8,756V788.7M842.0,762V791.3M847.6,769V810.7M853.3,808V828.7M859.4,816.7V837.3M862.6,826V846.7M868.3,828V849.3M871.4,812V828M876.7,803.3V821.6M885.7,823.3V847.7M897.7,812V833.3M912.6,820.3V840M915.5,829.3V853.3M917.6,841V866.5M921.8,829.5V853.5M932.4,832.6V861.7M935.6,832.6V853.7M945.6,848.6V869.1M947.3,848V862.9M950.7,836V854.9M954.1,843.4V862.3M962.1,848V868M965.6,841.1V864.6M985,848V867.4M989,834.3V860M991.9,833.7V856.6M998.1,835.4V859.4M1003.5,850.9V876.6M1018.4,831V851" stroke="#000" stroke-width="2.1" fill="none"/>
<g fill="#000"><circle cx="677.3" cy="839.3" r="3.3"/><circle cx="703.5" cy="855.3" r="3.3"/><circle cx="715.5" cy="853.3" r="3.3"/><circle cx="733.5" cy="824.3" r="3.3"/><circle cx="741.4" cy="834.7" r="3.3"/><circle cx="747.8" cy="834.1" r="3.3"/><circle cx="756.7" cy="838.4" r="3.3"/><circle cx="762.5" cy="834.6" r="3.3"/><circle cx="768.7" cy="822.3" r="3.3"/><circle cx="776.5" cy="831.4" r="3.3"/><circle cx="783.4" cy="806.4" r="3.3"/><circle cx="789.5" cy="801.2" r="3.3"/><circle cx="794.8" cy="794.2" r="3.3"/><circle cx="797.4" cy="781.6" r="3.3"/><circle cx="803.7" cy="785.3" r="3.3"/><circle cx="809.4" cy="740.4" r="3.3"/><circle cx="824.5" cy="621.3" r="3.3"/><circle cx="829.2" cy="719.4" r="3.3"/><circle cx="834.8" cy="771.2" r="3.3"/><circle cx="842.0" cy="776.1" r="3.3"/><circle cx="847.6" cy="789.4" r="3.3"/><circle cx="853.3" cy="817.3" r="3.3"/><circle cx="859.4" cy="826.4" r="3.3"/><circle cx="862.6" cy="834" r="3.3"/><circle cx="868.3" cy="838.4" r="3.3"/><circle cx="871.4" cy="820" r="3.3"/><circle cx="876.7" cy="812.4" r="3.3"/><circle cx="885.7" cy="835.3" r="3.3"/><circle cx="897.7" cy="822.4" r="3.3"/><circle cx="912.6" cy="831.4" r="3.3"/><circle cx="915.5" cy="838.8" r="3.3"/><circle cx="917.6" cy="853.2" r="3.3"/><circle cx="921.8" cy="840.9" r="3.3"/><circle cx="932.4" cy="845.7" r="3.3"/><circle cx="935.6" cy="841.7" r="3.3"/><circle cx="945.6" cy="858.3" r="3.3"/><circle cx="947.3" cy="853.7" r="3.3"/><circle cx="950.7" cy="845.1" r="3.3"/><circle cx="954.1" cy="853.1" r="3.3"/><circle cx="962.1" cy="857.1" r="3.3"/><circle cx="965.6" cy="852" r="3.3"/><circle cx="985" cy="856.6" r="3.3"/><circle cx="989" cy="845.1" r="3.3"/><circle cx="991.9" cy="844.6" r="3.3"/><circle cx="998.1" cy="845.7" r="3.3"/><circle cx="1003.5" cy="863.4" r="3.3"/><circle cx="1018.4" cy="841.1" r="3.3"/></g>
<polyline fill="none" stroke="#c000c0" stroke-width="2.5" stroke-linejoin="miter" stroke-miterlimit="20" points="610.20,849.55 613.14,849.48 616.07,849.42 619.01,849.35 621.94,849.27 624.88,849.20 627.82,849.12 630.75,849.04 633.69,848.95 636.62,848.86 639.56,848.76 642.50,848.67 645.43,848.56 648.37,848.46 651.30,848.34 654.24,848.23 657.18,848.10 660.11,847.98 663.05,847.84 665.98,847.70 668.92,847.55 671.86,847.40 674.79,847.23 677.73,847.06 680.66,846.88 683.60,846.69 686.54,846.49 689.47,846.28 692.41,846.06 695.34,845.82 698.28,845.57 701.22,845.31 704.15,845.03 707.09,844.74 710.02,844.43 712.96,844.10 715.90,843.74 718.83,843.37 721.77,842.97 724.70,842.54 727.64,842.08 730.58,841.59 733.51,841.06 736.45,840.50 739.38,839.89 742.32,839.23 745.26,838.51 748.19,837.74 751.13,836.89 754.06,835.97 757.00,834.96 759.94,833.85 762.87,832.63 765.81,831.27 768.74,829.75 771.68,828.06 774.62,826.14 777.55,823.97 778.29,823.38 779.02,822.78 779.75,822.14 780.49,821.49 781.22,820.81 781.96,820.11 782.69,819.38 783.42,818.63 784.16,817.84 784.89,817.03 785.63,816.18 786.36,815.29 787.09,814.37 787.83,813.41 788.56,812.40 789.30,811.36 790.03,810.26 790.76,809.12 791.50,807.92 792.23,806.66 792.97,805.34 793.70,803.95 794.43,802.49 795.17,800.95 795.90,799.33 796.64,797.62 797.37,795.81 798.10,793.90 798.84,791.86 799.57,789.71 800.31,787.41 801.04,784.97 801.77,782.35 802.51,779.56 803.24,776.57 803.98,773.35 804.71,769.89 805.44,766.16 806.18,762.12 806.91,757.75 807.65,752.99 808.38,747.81 809.11,742.15 809.26,740.95 809.41,739.74 809.55,738.50 809.70,737.24 809.85,735.95 809.99,734.64 810.14,733.31 810.29,731.95 810.44,730.56 810.58,729.15 810.73,727.71 810.88,726.24 811.02,724.75 811.17,723.23 811.32,721.67 811.46,720.09 811.61,718.47 811.76,716.83 811.90,715.15 812.05,713.44 812.20,711.69 812.34,709.91 812.49,708.10 812.64,706.25 812.78,704.36 812.93,702.44 813.08,700.48 813.22,698.48 813.37,696.45 813.52,694.37 813.66,692.26 813.81,690.10 813.96,687.91 814.11,685.68 814.25,683.40 814.40,681.09 814.55,678.73 814.69,676.34 814.84,673.90 814.99,671.42 815.13,668.91 815.28,666.36 815.43,663.77 815.57,661.15 815.72,658.49 815.87,655.80 816.01,653.08 816.16,650.33 816.31,647.56 816.45,644.76 816.60,641.95 816.75,639.13 816.89,636.29 817.04,633.45 817.19,630.62 817.33,627.79 817.48,624.97 817.63,622.18 817.78,619.42 817.92,616.70 818.07,614.02 818.22,611.41 818.36,608.85 818.51,606.38 818.66,604.00 818.80,601.71 818.95,599.54 819.10,597.48 819.24,595.56 819.39,593.79 819.54,592.16 819.68,590.71 819.83,589.42 819.98,588.32 820.12,587.41 820.27,586.69 820.42,586.18 820.56,585.87 820.71,585.76 820.71,585.76 820.86,585.87 821.00,586.18 821.15,586.69 821.30,587.41 821.45,588.32 821.59,589.42 821.74,590.71 821.89,592.16 822.03,593.79 822.18,595.56 822.33,597.48 822.47,599.54 822.62,601.71 822.77,604.00 822.91,606.38 823.06,608.85 823.21,611.41 823.35,614.02 823.50,616.70 823.65,619.42 823.79,622.18 823.94,624.97 824.09,627.79 824.23,630.62 824.38,633.45 824.53,636.29 824.67,639.13 824.82,641.95 824.97,644.76 825.12,647.56 825.26,650.33 825.41,653.08 825.56,655.80 825.70,658.49 825.85,661.15 826.00,663.77 826.14,666.36 826.29,668.91 826.44,671.42 826.58,673.90 826.73,676.34 826.88,678.73 827.02,681.09 827.17,683.40 827.32,685.68 827.46,687.91 827.61,690.10 827.76,692.26 827.90,694.37 828.05,696.45 828.20,698.48 828.34,700.48 828.49,702.44 828.64,704.36 828.79,706.25 828.93,708.10 829.08,709.91 829.23,711.69 829.37,713.44 829.52,715.15 829.67,716.83 829.81,718.47 829.96,720.09 830.11,721.67 830.25,723.23 830.40,724.75 830.55,726.24 830.69,727.71 830.84,729.15 830.99,730.56 831.13,731.95 831.28,733.31 831.43,734.64 831.57,735.95 831.72,737.24 831.87,738.50 832.01,739.74 832.16,740.95 832.31,742.15 832.46,743.32 833.19,748.88 833.92,753.97 834.66,758.65 835.39,762.96 836.13,766.93 836.86,770.61 837.59,774.01 838.33,777.18 839.06,780.14 839.80,782.89 840.53,785.47 841.26,787.88 842.00,790.15 842.73,792.28 843.47,794.29 844.20,796.18 844.93,797.97 845.67,799.66 846.40,801.27 847.14,802.79 847.87,804.23 848.60,805.61 849.34,806.91 850.07,808.16 850.81,809.35 851.54,810.48 852.27,811.57 853.01,812.61 853.74,813.60 854.48,814.56 855.21,815.47 855.94,816.35 856.68,817.19 857.41,818.00 858.15,818.78 858.88,819.53 859.61,820.25 860.35,820.95 861.08,821.62 861.82,822.27 862.55,822.90 863.28,823.50 864.02,824.09 864.75,824.66 867.69,826.74 870.62,828.59 873.56,830.23 876.50,831.69 879.43,833.01 882.37,834.20 885.30,835.28 888.24,836.26 891.18,837.16 894.11,837.98 897.05,838.73 899.98,839.43 902.92,840.07 905.86,840.67 908.79,841.23 911.73,841.74 914.66,842.22 917.60,842.67 920.54,843.09 923.47,843.48 926.41,843.85 929.34,844.20 932.28,844.52 935.22,844.83 938.15,845.12 941.09,845.39 944.02,845.65 946.96,845.89 949.90,846.12 952.83,846.34 955.77,846.55 958.70,846.75 961.64,846.94 964.58,847.11 967.51,847.28 970.45,847.44 973.38,847.60 976.32,847.74 979.26,847.88 982.19,848.01 985.13,848.14 988.06,848.26 991.00,848.38 993.94,848.49 996.87,848.60 999.81,848.70 1002.74,848.79 1005.68,848.89 1008.62,848.98 1011.55,849.06 1014.49,849.14 1017.42,849.22 1020.36,849.30 1023.30,849.37 1026.23,849.44 1029.17,849.50 1032.10,849.57 1035.04,849.63"/>
<path d="M620,934.9H1020" stroke="#c000c0" stroke-width="2.5"/>
</g>
<g clip-path="url(#cbl)">
<g fill="#f00" stroke="#000" stroke-width="2.1"><rect x="124.60" y="947.0" width="6.465" height="19.0"/><rect x="131.06" y="911.6" width="6.465" height="54.4"/><rect x="137.53" y="874.6" width="6.465" height="91.4"/><rect x="144.00" y="828.9" width="6.465" height="137.1"/><rect x="150.46" y="824.5" width="6.465" height="141.5"/><rect x="156.93" y="774.9" width="6.465" height="191.1"/><rect x="163.39" y="714.9" width="6.465" height="251.1"/><rect x="169.85" y="696.9" width="6.465" height="269.1"/><rect x="176.32" y="624.0" width="6.465" height="342.0"/><rect x="182.78" y="638.9" width="6.465" height="327.1"/><rect x="189.25" y="605.9" width="6.465" height="360.1"/><rect x="195.71" y="603.1" width="6.465" height="362.9"/><rect x="202.18" y="600.2" width="6.465" height="365.8"/><rect x="208.64" y="603.1" width="6.465" height="362.9"/><rect x="215.11" y="623.3" width="6.465" height="342.7"/><rect x="221.57" y="645.0" width="6.465" height="321.0"/><rect x="228.04" y="664.2" width="6.465" height="301.8"/><rect x="234.50" y="672.2" width="6.465" height="293.8"/><rect x="240.97" y="704.2" width="6.465" height="261.8"/><rect x="247.44" y="733.3" width="6.465" height="232.7"/><rect x="253.90" y="749.1" width="6.465" height="216.9"/><rect x="260.37" y="754.3" width="6.465" height="211.7"/><rect x="266.83" y="777.1" width="6.465" height="188.9"/><rect x="273.29" y="791.4" width="6.465" height="174.6"/><rect x="279.76" y="808.2" width="6.465" height="157.8"/><rect x="286.23" y="835.2" width="6.465" height="130.8"/><rect x="292.69" y="845.1" width="6.465" height="120.9"/><rect x="299.15" y="852.8" width="6.465" height="113.2"/><rect x="305.62" y="864.9" width="6.465" height="101.1"/><rect x="312.08" y="878.9" width="6.465" height="87.1"/><rect x="318.55" y="881.7" width="6.465" height="84.3"/><rect x="325.01" y="888.9" width="6.465" height="77.1"/><rect x="331.48" y="887.8" width="6.465" height="78.2"/><rect x="337.94" y="900.0" width="6.465" height="66.0"/><rect x="344.41" y="908.0" width="6.465" height="58.0"/><rect x="350.88" y="910.9" width="6.465" height="55.1"/><rect x="357.34" y="911.8" width="6.465" height="54.2"/><rect x="363.80" y="918.0" width="6.465" height="48.0"/><rect x="370.27" y="931.8" width="6.465" height="34.2"/><rect x="376.74" y="931.8" width="6.465" height="34.2"/><rect x="383.20" y="942.9" width="6.465" height="23.1"/><rect x="389.66" y="947.8" width="6.465" height="18.2"/><rect x="396.13" y="945.7" width="6.465" height="20.3"/><rect x="402.60" y="948.0" width="6.465" height="18.0"/><rect x="409.06" y="950.7" width="6.465" height="15.3"/><rect x="415.52" y="950.7" width="6.465" height="15.3"/><rect x="421.99" y="955.0" width="6.465" height="11.0"/><rect x="428.46" y="956.8" width="6.465" height="9.2"/><rect x="434.92" y="955.9" width="6.465" height="10.1"/><rect x="441.38" y="959.5" width="6.465" height="6.5"/><rect x="447.85" y="959.5" width="6.465" height="6.5"/><rect x="454.31" y="960.7" width="6.465" height="5.3"/><rect x="460.78" y="961.8" width="6.465" height="4.2"/><rect x="467.25" y="961.8" width="6.465" height="4.2"/><rect x="473.71" y="962.7" width="6.465" height="3.3"/><rect x="480.17" y="966.0" width="6.465" height="0.0"/><rect x="486.64" y="963.5" width="6.465" height="2.5"/><rect x="493.11" y="966.0" width="6.465" height="0.0"/><rect x="499.57" y="966.0" width="6.465" height="0.0"/><rect x="506.03" y="966.0" width="6.465" height="0.0"/><rect x="512.50" y="966.0" width="6.465" height="0.0"/></g>
<path d="M177,966V550M294,966V550" stroke="#00f" stroke-width="4.2" stroke-dasharray="12.5 12.5"/>
<path d="M480,964.8H519" stroke="#000" stroke-width="2.1"/>
<path d="M223,966V550" stroke="#00f" stroke-width="4.2"/>
</g>
<rect x="126" y="73" width="393" height="415" fill="none" stroke="#000" stroke-width="2.1"/>
<rect x="625" y="73" width="393" height="415" fill="none" stroke="#000" stroke-width="2.1"/>
<path d="M199.5,488v-8.3M199.5,73v8.3M322,488v-8.3M322,73v8.3M444.5,488v-8.3M444.5,73v8.3M126,488.0h8.3M519,488.0h-8.3M126,436.125h8.3M519,436.125h-8.3M126,384.25h8.3M519,384.25h-8.3M126,332.375h8.3M519,332.375h-8.3M126,280.5h8.3M519,280.5h-8.3M126,228.625h8.3M519,228.625h-8.3M126,176.75h8.3M519,176.75h-8.3M126,124.875h8.3M519,124.875h-8.3M126,73.0h8.3M519,73.0h-8.3" stroke="#000" stroke-width="1.05" fill="none"/>
<path d="M723.25,488v-8.3M723.25,73v8.3M821.5,488v-8.3M821.5,73v8.3M919.75,488v-8.3M919.75,73v8.3M1018,488v-8.3M1018,73v8.3M625,488.0h8.3M1018,488.0h-8.3M625,436.125h8.3M1018,436.125h-8.3M625,384.25h8.3M1018,384.25h-8.3M625,332.375h8.3M1018,332.375h-8.3M625,280.5h8.3M1018,280.5h-8.3M625,228.625h8.3M1018,228.625h-8.3M625,176.75h8.3M1018,176.75h-8.3M625,124.875h8.3M1018,124.875h-8.3M625,73.0h8.3M1018,73.0h-8.3" stroke="#000" stroke-width="1.05" fill="none"/>
<rect x="126" y="550" width="393" height="416" fill="none" stroke="#000" stroke-width="2.1"/>
<path d="M201.7,966v-8.3M201.7,550v8.3M342.6,966v-8.3M342.6,550v8.3M483.4,966v-8.3M483.4,550v8.3M126,966.0h8.3M519,966.0h-8.3M126,882.8h8.3M519,882.8h-8.3M126,799.6h8.3M519,799.6h-8.3M126,716.4h8.3M519,716.4h-8.3M126,633.2h8.3M519,633.2h-8.3M126,550.0h8.3M519,550.0h-8.3" stroke="#000" stroke-width="1.05" fill="none"/>
<rect x="625" y="550" width="393" height="416" fill="none" stroke="#000" stroke-width="2.1"/>
<path d="M683.6,966v-8.3M683.6,550v8.3M830.5,966v-8.3M830.5,550v8.3M977.2,966v-8.3M977.2,550v8.3M625,580.6h8.3M1018,580.6h-8.3M625,658.6h8.3M1018,658.6h-8.3M625,736.6h8.3M1018,736.6h-8.3M625,814.6h8.3M1018,814.6h-8.3M625,892.6h8.3M1018,892.6h-8.3" stroke="#000" stroke-width="1.05" fill="none"/>
<text x="429.10" y="42.00" font-size="21.8" textLength="187.92" lengthAdjust="spacingAndGlyphs">BLG122.3.210953</text>
<text x="59.11" y="495.50" font-size="21.8" textLength="58.71" lengthAdjust="spacingAndGlyphs">0.000</text>
<text x="558.21" y="495.50" font-size="21.8" textLength="58.71" lengthAdjust="spacingAndGlyphs">0.000</text>
<text x="59.55" y="443.62" font-size="21.8" textLength="58.33" lengthAdjust="spacingAndGlyphs">0.005</text>
<text x="558.65" y="443.62" font-size="21.8" textLength="58.33" lengthAdjust="spacingAndGlyphs">0.005</text>
<text x="59.11" y="391.75" font-size="21.8" textLength="58.71" lengthAdjust="spacingAndGlyphs">0.010</text>
<text x="558.21" y="391.75" font-size="21.8" textLength="58.71" lengthAdjust="spacingAndGlyphs">0.010</text>
<text x="59.55" y="339.88" font-size="21.8" textLength="58.33" lengthAdjust="spacingAndGlyphs">0.015</text>
<text x="558.65" y="339.88" font-size="21.8" textLength="58.33" lengthAdjust="spacingAndGlyphs">0.015</text>
<text x="59.11" y="288.00" font-size="21.8" textLength="58.71" lengthAdjust="spacingAndGlyphs">0.020</text>
<text x="558.21" y="288.00" font-size="21.8" textLength="58.71" lengthAdjust="spacingAndGlyphs">0.020</text>
<text x="59.55" y="236.12" font-size="21.8" textLength="58.33" lengthAdjust="spacingAndGlyphs">0.025</text>
<text x="558.65" y="236.12" font-size="21.8" textLength="58.33" lengthAdjust="spacingAndGlyphs">0.025</text>
<text x="59.11" y="184.25" font-size="21.8" textLength="58.71" lengthAdjust="spacingAndGlyphs">0.030</text>
<text x="558.21" y="184.25" font-size="21.8" textLength="58.71" lengthAdjust="spacingAndGlyphs">0.030</text>
<text x="59.55" y="132.38" font-size="21.8" textLength="58.33" lengthAdjust="spacingAndGlyphs">0.035</text>
<text x="558.65" y="132.38" font-size="21.8" textLength="58.33" lengthAdjust="spacingAndGlyphs">0.035</text>
<text x="59.11" y="80.50" font-size="21.8" textLength="58.71" lengthAdjust="spacingAndGlyphs">0.040</text>
<text x="558.21" y="80.50" font-size="21.8" textLength="58.71" lengthAdjust="spacingAndGlyphs">0.040</text>
<text x="59.11" y="973.50" font-size="21.8" textLength="58.71" lengthAdjust="spacingAndGlyphs">0.000</text>
<text x="59.55" y="890.30" font-size="21.8" textLength="58.33" lengthAdjust="spacingAndGlyphs">0.005</text>
<text x="59.11" y="807.10" font-size="21.8" textLength="58.71" lengthAdjust="spacingAndGlyphs">0.010</text>
<text x="59.55" y="723.90" font-size="21.8" textLength="58.33" lengthAdjust="spacingAndGlyphs">0.015</text>
<text x="59.11" y="640.70" font-size="21.8" textLength="58.71" lengthAdjust="spacingAndGlyphs">0.020</text>
<text x="59.55" y="557.50" font-size="21.8" textLength="58.33" lengthAdjust="spacingAndGlyphs">0.025</text>
<text x="186.83" y="512.00" font-size="21.8" textLength="25.32" lengthAdjust="spacingAndGlyphs">50</text>
<text x="302.19" y="512.00" font-size="21.8" textLength="38.76" lengthAdjust="spacingAndGlyphs">100</text>
<text x="424.69" y="512.00" font-size="21.8" textLength="38.76" lengthAdjust="spacingAndGlyphs">150</text>
<text x="700.67" y="512.00" font-size="21.8" textLength="45.27" lengthAdjust="spacingAndGlyphs">0.03</text>
<text x="798.74" y="512.00" font-size="21.8" textLength="45.64" lengthAdjust="spacingAndGlyphs">0.06</text>
<text x="897.06" y="512.00" font-size="21.8" textLength="45.56" lengthAdjust="spacingAndGlyphs">0.09</text>
<text x="995.64" y="512.00" font-size="21.8" textLength="44.99" lengthAdjust="spacingAndGlyphs">0.12</text>
<text x="189.03" y="989.60" font-size="21.8" textLength="25.32" lengthAdjust="spacingAndGlyphs">50</text>
<text x="322.79" y="989.60" font-size="21.8" textLength="38.76" lengthAdjust="spacingAndGlyphs">100</text>
<text x="463.59" y="989.60" font-size="21.8" textLength="38.76" lengthAdjust="spacingAndGlyphs">150</text>
<text x="657.69" y="989.60" font-size="21.8" textLength="51.84" lengthAdjust="spacingAndGlyphs">3050</text>
<text x="804.59" y="989.60" font-size="21.8" textLength="51.84" lengthAdjust="spacingAndGlyphs">3100</text>
<text x="951.29" y="989.60" font-size="21.8" textLength="51.84" lengthAdjust="spacingAndGlyphs">3150</text>
<text x="571.44" y="588.10" font-size="21.8" textLength="45.59" lengthAdjust="spacingAndGlyphs">16.6</text>
<text x="571.92" y="666.10" font-size="21.8" textLength="45.25" lengthAdjust="spacingAndGlyphs">16.7</text>
<text x="571.55" y="744.10" font-size="21.8" textLength="45.46" lengthAdjust="spacingAndGlyphs">16.8</text>
<text x="571.59" y="822.10" font-size="21.8" textLength="45.52" lengthAdjust="spacingAndGlyphs">16.9</text>
<text x="571.52" y="900.10" font-size="21.8" textLength="45.40" lengthAdjust="spacingAndGlyphs">17.0</text>
<text x="715.99" y="1017.80" font-size="21.8" textLength="212.27" lengthAdjust="spacingAndGlyphs">HJD-2450000 [days]</text>
<text x="303.74" y="1017.80" font-size="21.8" textLength="66.03" lengthAdjust="spacingAndGlyphs">[days]</text>
<text transform="translate(0,0) rotate(-90)" x="-808.55" y="49.10" font-size="21.8" textLength="102.45" lengthAdjust="spacingAndGlyphs">normed N</text>
<text transform="translate(0,0) rotate(-90)" x="-795.99" y="558.00" font-size="21.8" textLength="75.75" lengthAdjust="spacingAndGlyphs">I [mag]</text>
<text class="m" x="274.36" y="1017.39" font-size="21.82" textLength="7.87" lengthAdjust="spacingAndGlyphs">t</text>
<text class="m" x="282.90" y="1022.60" font-size="16.65" textLength="10.48" lengthAdjust="spacingAndGlyphs">E</text>
<text class="m" x="811.15" y="532.49" font-size="17.63" textLength="12.56" lengthAdjust="spacingAndGlyphs">u</text>
<text class="mr" x="823.23" y="537.55" font-size="15.71" textLength="7.43" lengthAdjust="spacingAndGlyphs">0</text>
<text transform="rotate(-90)" class="m" x="-288.90" y="40.68" font-size="18.87" textLength="7.35" lengthAdjust="spacingAndGlyphs">f</text>
<text transform="rotate(-90)" class="m" x="-278.75" y="45.57" font-size="13.31" textLength="4.94" lengthAdjust="spacingAndGlyphs">s</text>
</svg></body></html>
